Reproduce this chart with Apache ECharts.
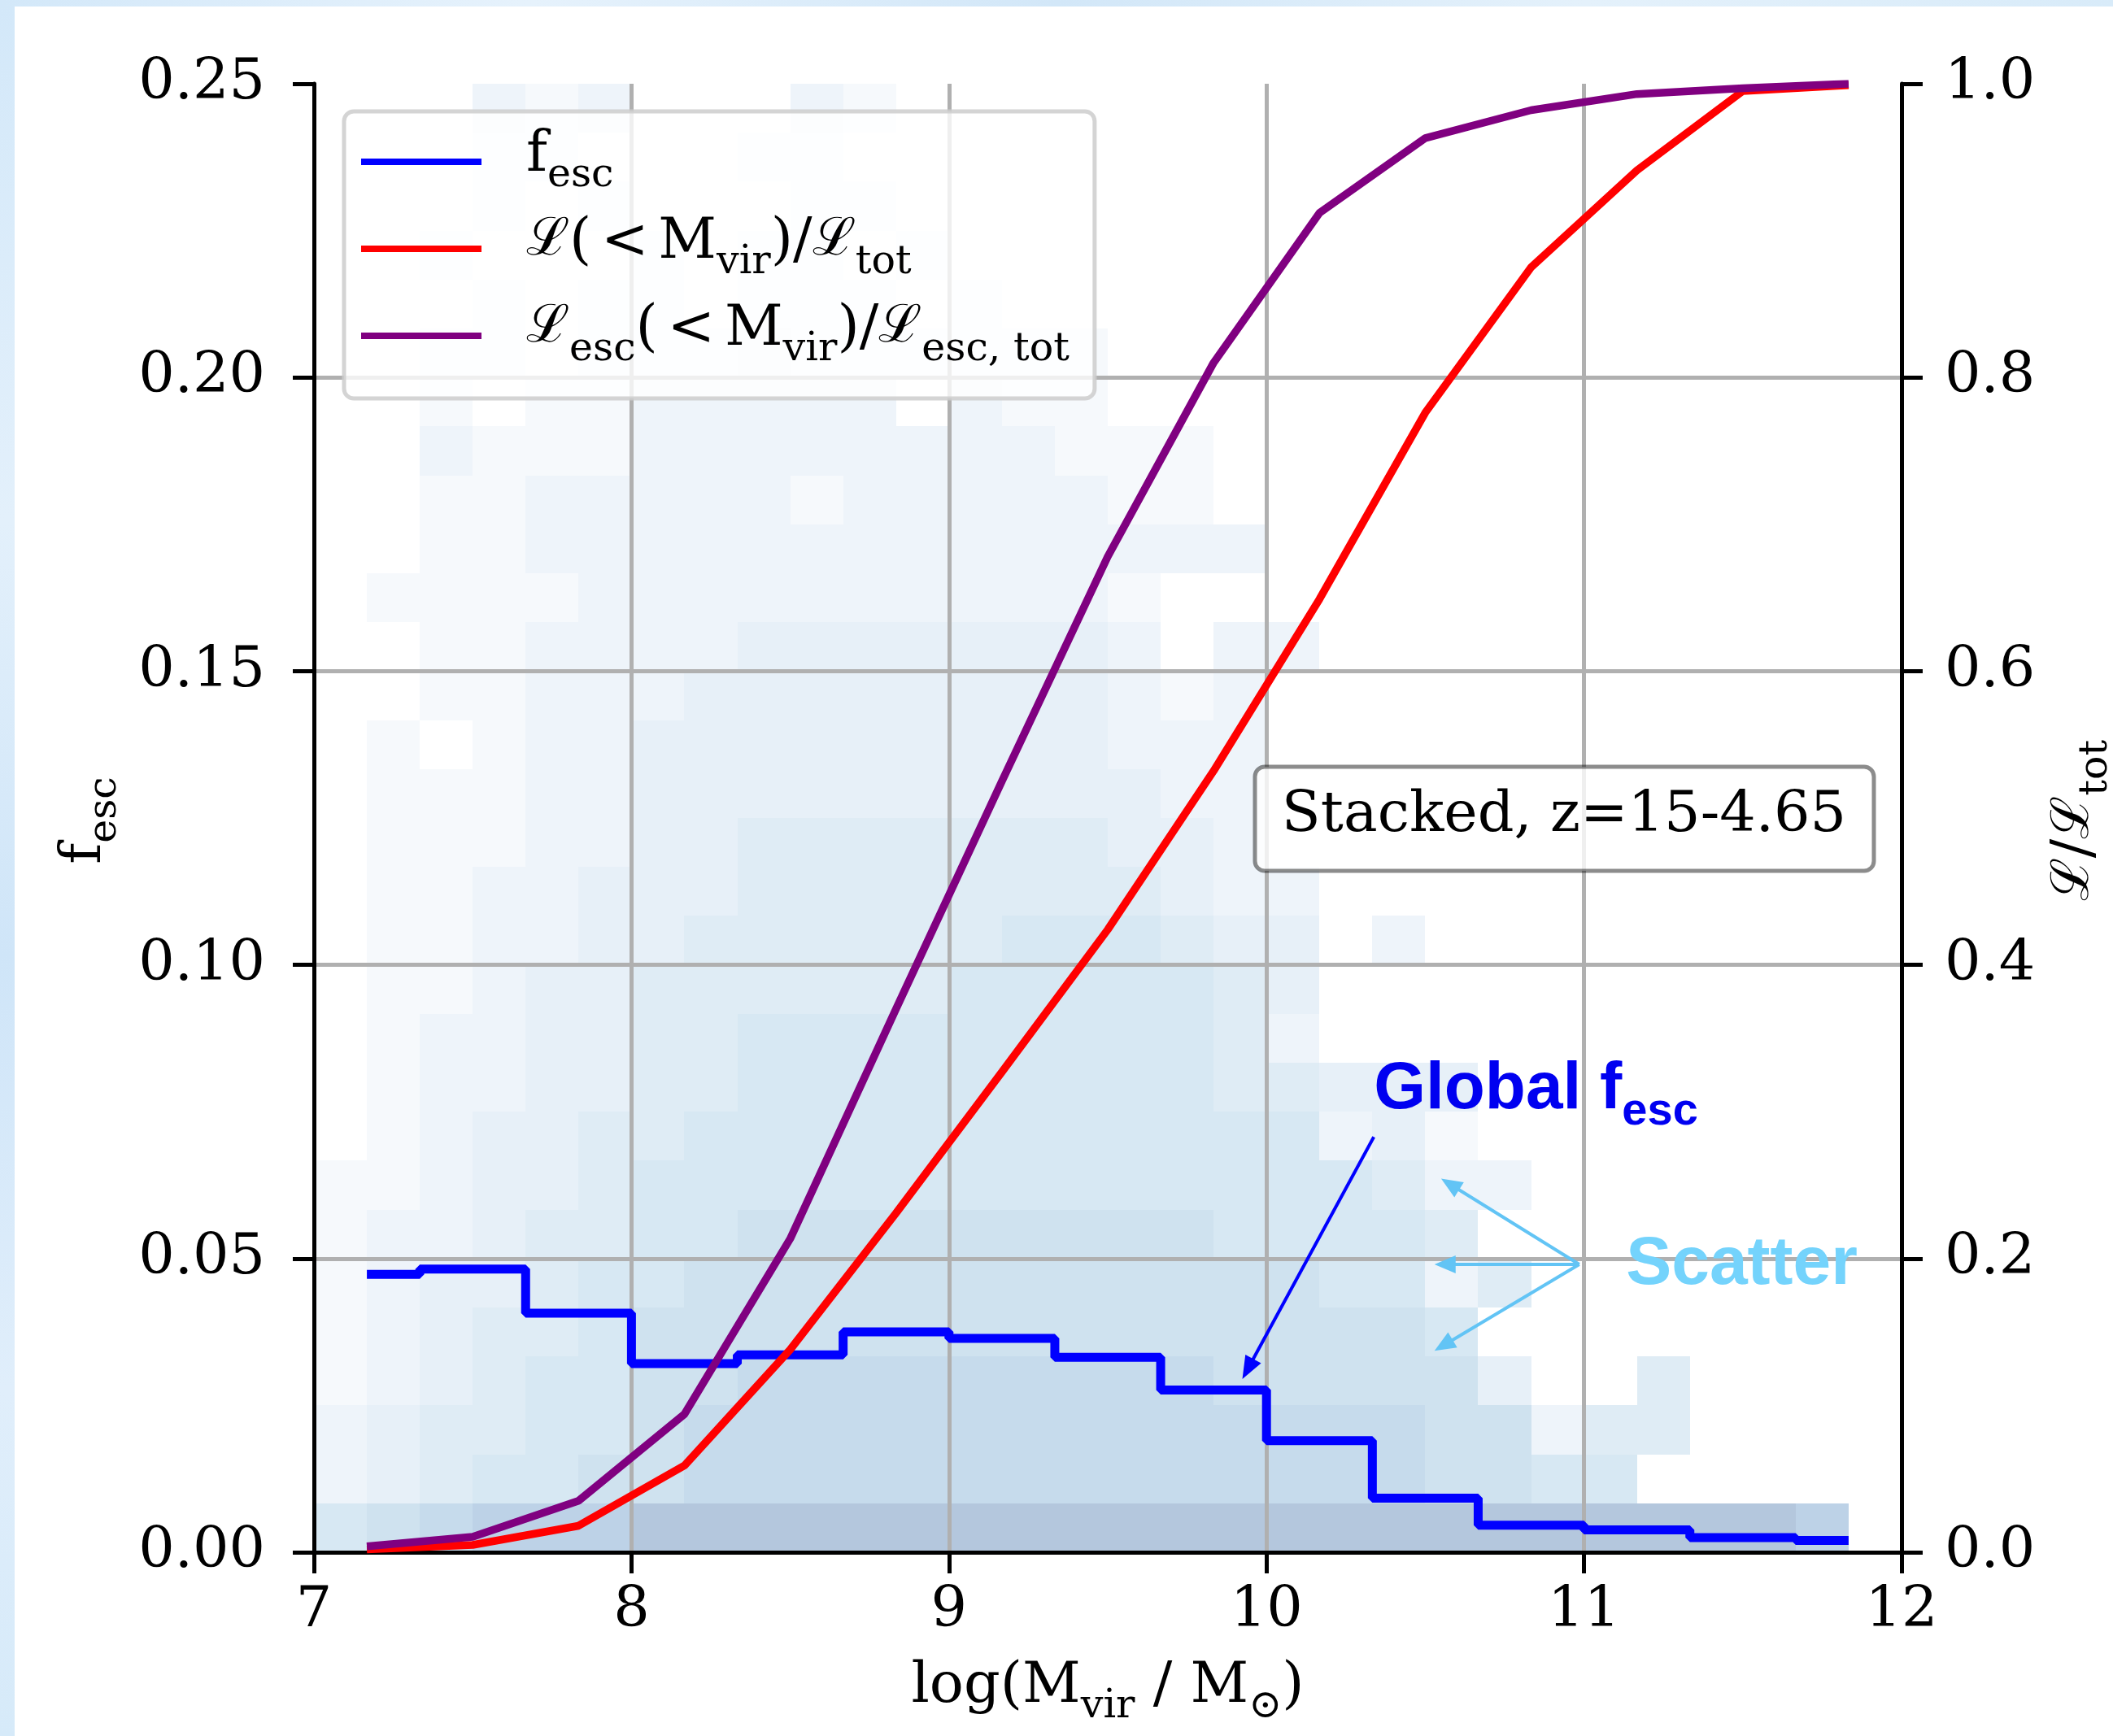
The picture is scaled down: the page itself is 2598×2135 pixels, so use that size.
<!DOCTYPE html>
<html>
<head>
<meta charset="utf-8">
<script src="https://cdn.jsdelivr.net/npm/echarts@6.0.0/dist/echarts.min.js"></script>
<style>
  html, body { margin: 0; padding: 0; background: #ffffff; }
  #chart { width: 2598px; height: 2135px; }
</style>
</head>
<body>
<div id="chart"></div>
<script>
// ---- data -------------------------------------------------------------
// halo-mass bin centres, log(M_vir / M_sun)
const massCentres = [7.1667, 7.5, 7.8333, 8.1667, 8.5, 8.8333, 9.1667, 9.5,
                     9.8333, 10.1667, 10.5, 10.8333, 11.1667, 11.5, 11.8333];
// luminosity-weighted escape fraction in each mass bin
const fescGlobal = [0.0473, 0.0482, 0.0407, 0.0321, 0.0336, 0.0375, 0.0364, 0.0332,
                    0.0276, 0.0190, 0.0092, 0.0046, 0.0038, 0.0025, 0.0020];
// cumulative intrinsic luminosity  L(<M_vir)/L_tot
const lumCumulative = [0.002, 0.005, 0.018, 0.059, 0.138, 0.231, 0.327, 0.424,
                       0.532, 0.649, 0.776, 0.875, 0.941, 0.995, 0.999];
// cumulative escaping luminosity  L_esc(<M_vir)/L_esc,tot
const lumEscCumulative = [0.004, 0.0105, 0.035, 0.094, 0.2135, 0.370, 0.525, 0.678,
                          0.810, 0.912, 0.963, 0.982, 0.993, 0.997, 1.000];

// tick labels
const massTickLabels = ['7', '8', '9', '10', '11', '12'];
const fescTickLabels = ['0.00', '0.05', '0.10', '0.15', '0.20', '0.25'];
const lumTickLabels = ['0.0', '0.2', '0.4', '0.6', '0.8', '1.0'];

// 2D histogram of individual haloes: shading level per bin
// (rows run from f_esc = 0 upwards, columns from log M = 7 upwards; 0 = empty)
const MASS_MIN = 7, MASS_BIN = 1 / 6;
const FESC_MIN = 0, FESC_BIN = 0.25 / 30;
const scatterLevels = [
  [5,6,7,8,8,8,9,9,9,9,9,9,9,9,9,9,9,9,9,9,9,9,9,9,9,9,9,9,8,0],
  [2,3,4,5,5,6,6,7,7,7,7,7,7,7,7,7,7,7,7,7,7,6,6,5,5,0,0,0,0,0],
  [2,3,4,4,5,5,6,7,7,7,7,7,7,7,7,7,7,7,7,7,7,6,6,2,4,4,0,0,0,0],
  [1,2,3,4,5,5,6,6,7,7,7,7,7,7,7,7,7,6,6,6,6,6,3,0,0,4,0,0,0,0],
  [1,2,3,4,4,5,6,6,6,6,6,6,6,6,6,6,6,6,6,6,6,5,0,0,0,0,0,0,0,0],
  [1,2,3,3,4,5,5,6,6,6,6,6,6,6,6,6,6,6,6,5,5,2,4,0,0,0,0,0,0,0],
  [1,2,2,3,4,4,5,5,6,6,6,6,6,6,6,6,6,5,5,5,5,4,0,0,0,0,0,0,0,0],
  [1,1,2,3,3,4,5,5,5,5,5,5,5,5,5,5,5,5,5,5,4,2,2,0,0,0,0,0,0,0],
  [0,1,2,3,3,4,4,5,5,5,5,5,5,5,5,5,5,5,5,2,3,1,0,0,0,0,0,0,0,0],
  [0,1,2,2,3,3,4,4,5,5,5,5,5,5,5,5,5,4,4,3,3,3,0,0,0,0,0,0,0,0],
  [0,1,2,2,3,3,4,4,5,5,5,5,5,5,5,5,5,4,2,0,0,0,0,0,0,0,0,0,0,0],
  [0,1,1,2,3,3,4,4,4,4,4,4,5,5,5,5,5,4,3,0,0,0,0,0,0,0,0,0,0,0],
  [0,1,1,2,2,3,3,4,4,4,4,4,4,5,5,5,4,3,3,0,2,0,0,0,0,0,0,0,0,0],
  [0,1,1,2,2,3,3,3,4,4,4,4,4,4,4,4,3,2,2,0,0,0,0,0,0,0,0,0,0,0],
  [0,1,1,1,2,2,3,3,4,4,4,4,4,4,4,3,3,2,0,0,0,0,0,0,0,0,0,0,0,0],
  [0,1,1,1,2,2,3,3,3,3,3,3,3,3,3,3,2,2,0,0,0,0,0,0,0,0,0,0,0,0],
  [0,1,0,1,2,2,3,3,3,3,3,3,3,3,3,2,2,2,0,0,0,0,0,0,0,0,0,0,0,0],
  [0,0,1,1,2,2,2,3,3,3,3,3,3,3,3,2,1,2,0,0,0,0,0,0,0,0,0,0,0,0],
  [0,0,1,1,2,2,2,2,3,3,3,3,3,3,3,2,0,2,2,0,0,0,0,0,0,0,0,0,0,0],
  [0,1,1,1,1,2,2,2,2,2,2,2,2,2,2,1,0,0,0,0,0,0,0,0,0,0,0,0,0,0],
  [0,0,1,1,2,2,2,2,2,2,2,2,2,2,2,2,2,2,0,0,0,0,0,0,0,0,0,0,0,0],
  [0,0,1,1,2,2,2,2,2,1,2,2,2,2,2,1,1,0,0,0,0,0,0,0,0,0,0,0,0,0],
  [0,0,2,1,1,1,2,2,2,2,2,2,2,2,1,1,1,0,0,0,0,0,0,0,0,0,0,0,0,0],
  [0,0,1,0,1,1,2,2,2,2,2,0,2,1,1,0,0,0,0,0,0,0,0,0,0,0,0,0,0,0],
  [0,0,1,1,0,1,1,1,2,1,1,1,1,1,1,0,0,0,0,0,0,0,0,0,0,0,0,0,0,0],
  [0,0,0,1,0,1,1,0,1,1,1,0,1,0,0,0,0,0,0,0,0,0,0,0,0,0,0,0,0,0],
  [0,0,1,0,0,0,1,0,1,1,0,1,0,0,0,0,0,0,0,0,0,0,0,0,0,0,0,0,0,0],
  [0,0,0,1,0,1,0,0,0,1,1,0,0,0,0,0,0,0,0,0,0,0,0,0,0,0,0,0,0,0],
  [0,0,0,1,1,0,0,0,1,1,0,0,0,0,0,0,0,0,0,0,0,0,0,0,0,0,0,0,0,0],
  [0,0,0,2,1,2,0,0,0,2,1,0,0,0,0,0,0,0,0,0,0,0,0,0,0,0,0,0,0,0]
];

// ---- styling ----------------------------------------------------------
const SERIF = 'DejaVu Serif';
const SANS = 'Liberation Sans';
const cellPalette = [null, '#f6f9fc', '#eef4fa', '#e7f0f8', '#dfecf5', '#d7e8f3',
                     '#cfe2ef', '#c6dbec', '#bdd2e7', '#b4c7dd'];

// rich-text pieces for math labels: m = main, s = subscript, c = script L
const mathRich = {
  m: { fontFamily: SERIF, fontSize: 70, lineHeight: 84, verticalAlign: 'top', color: '#000', fill: '#000' },
  c: { fontFamily: SERIF, fontSize: 64, lineHeight: 84, verticalAlign: 'top', color: '#000', fill: '#000' },
  s: { fontFamily: SERIF, fontSize: 49, lineHeight: 48, verticalAlign: 'bottom', color: '#000', fill: '#000' }
};

// histogram cells as [massLo, massHi, fescLo, fescHi, level]
const cellData = [];
scatterLevels.forEach((row, r) => {
  row.forEach((level, c) => {
    if (level > 0) {
      cellData.push([
        MASS_MIN + c * MASS_BIN, MASS_MIN + (c + 1) * MASS_BIN,
        FESC_MIN + r * FESC_BIN, FESC_MIN + (r + 1) * FESC_BIN,
        level
      ]);
    }
  });
});

function renderCell(params, api) {
  const p0 = api.coord([api.value(0), api.value(3)]);
  const p1 = api.coord([api.value(1), api.value(2)]);
  const x0 = Math.round(p0[0]), y0 = Math.round(p0[1]);
  const x1 = Math.round(p1[0]), y1 = Math.round(p1[1]);
  return {
    type: 'rect',
    shape: { x: x0, y: y0, width: x1 - x0, height: y1 - y0 },
    style: { fill: cellPalette[api.value(4)] }
  };
}

const pairs = (xs, ys) => xs.map((x, i) => [x, ys[i]]);

const legendLabels = {
  fesc: '{m|f}{s|esc}',
  lum: '{c|ℒ}{m|(\u2006<\u2006M}{s|vir}{m|)/}{c|ℒ}{s|tot}',
  lumEsc: '{c|ℒ}{s|esc}{m|(\u2006<\u2006M}{s|vir}{m|)/}{c|ℒ}{s|esc, tot}'
};

const chart = echarts.init(document.getElementById('chart'), null, { renderer: 'canvas' });

const axisFont = { fontFamily: SERIF, fontSize: 70, color: '#000' };
const spine = { show: true, lineStyle: { color: '#000', width: 5 } };
const ticks = { show: true, length: 26, lineStyle: { color: '#000', width: 5 } };
const gridLines = { show: true, showMinLine: false, showMaxLine: false,
                    lineStyle: { color: '#b0b0b0', width: 5 } };

chart.setOption({
  animation: false,
  backgroundColor: '#ffffff',
  grid: {
    left: 386, right: 260, top: 103, bottom: 226,
    show: false,
    outerBoundsMode: 'none'
  },
  xAxis: [
    {
      type: 'value', min: 7, max: 12, interval: 1, position: 'bottom',
      axisLine: spine, axisTick: ticks,
      axisLabel: Object.assign({ margin: 38,
        formatter: v => massTickLabels[Math.round(v - 7)] }, axisFont),
      splitLine: gridLines
    },
    {
      // top spine
      type: 'value', min: 7, max: 12, interval: 1, position: 'top',
      axisLine: spine, axisTick: { show: false }, axisLabel: { show: false },
      splitLine: { show: false }
    }
  ],
  yAxis: [
    {
      type: 'value', min: 0, max: 0.25, interval: 0.05, position: 'left',
      axisLine: spine, axisTick: ticks,
      axisLabel: Object.assign({ margin: 60,
        formatter: v => fescTickLabels[Math.round(v / 0.05)] }, axisFont),
      splitLine: gridLines
    },
    {
      type: 'value', min: 0, max: 1, interval: 0.2, position: 'right',
      axisLine: spine, axisTick: ticks,
      axisLabel: Object.assign({ margin: 53,
        formatter: v => lumTickLabels[Math.round(v / 0.2)] }, axisFont),
      splitLine: { show: false }
    }
  ],
  legend: {
    orient: 'vertical',
    left: 423, top: 137,
    padding: [20, 31, 35, 21],
    itemGap: 23,
    itemWidth: 148, itemHeight: 8,
    icon: 'rect',
    selectedMode: false,
    backgroundColor: 'rgba(255,255,255,0.8)',
    borderColor: 'rgba(204,204,204,0.85)', borderWidth: 5, borderRadius: 12,
    data: ['fesc', 'lum', 'lumEsc'],
    formatter: name => legendLabels[name],
    textStyle: { padding: [0, 0, 0, 50], rich: mathRich }
  },
  series: [
    {
      name: 'scatter',
      type: 'custom',
      coordinateSystem: 'cartesian2d',
      xAxisIndex: 0, yAxisIndex: 0,
      z: -1,
      clip: true,
      silent: true,
      dimensions: ['massLo', 'massHi', 'fescLo', 'fescHi', 'level'],
      encode: { x: [0, 1], y: [2, 3] },
      renderItem: renderCell,
      data: cellData
    },
    {
      name: 'fesc', type: 'line', yAxisIndex: 0, step: 'middle', z: 2,
      symbol: 'none', showSymbol: false,
      lineStyle: { color: '#0000ff', width: 11 }, itemStyle: { color: '#0000ff' },
      data: pairs(massCentres, fescGlobal)
    },
    {
      name: 'lum', type: 'line', yAxisIndex: 1, z: 3,
      symbol: 'none', showSymbol: false,
      lineStyle: { color: '#ff0000', width: 9.5 }, itemStyle: { color: '#ff0000' },
      data: pairs(massCentres, lumCumulative)
    },
    {
      name: 'lumEsc', type: 'line', yAxisIndex: 1, z: 4,
      symbol: 'none', showSymbol: false,
      lineStyle: { color: '#800080', width: 9.5 }, itemStyle: { color: '#800080' },
      data: pairs(massCentres, lumEscCumulative)
    }
  ]
});

// ---- annotations -------------------------------------------------------
const toPx = p => chart.convertToPixel({ gridIndex: 0 }, p);

function arrow(from, to, color, width, headLen, headWidth) {
  const a = toPx(from), b = toPx(to);
  const dx = b[0] - a[0], dy = b[1] - a[1];
  const len = Math.hypot(dx, dy), ux = dx / len, uy = dy / len;
  const bx = b[0] - ux * headLen, by = b[1] - uy * headLen;
  const hw = headWidth / 2;
  return [
    { type: 'line', z: 10, silent: true,
      shape: { x1: a[0], y1: a[1], x2: bx + ux * 2, y2: by + uy * 2 },
      style: { stroke: color, lineWidth: width } },
    { type: 'polygon', z: 10, silent: true,
      shape: { points: [[b[0], b[1]], [bx - uy * hw, by + ux * hw], [bx + uy * hw, by - ux * hw]] },
      style: { fill: color } }
  ];
}

const globalColor = '#0000f0';
const scatterTextColor = '#74d3fc';
const scatterArrowColor = '#62c4f5';

const globalAt = toPx([10.338, 0.0844]);
const scatterAt = toPx([11.132, 0.0555]);
const scatterFrom = [10.985, 0.0490];

const graphics = [
  // frosted backdrop strips along the page edges
  { type: 'rect', z: -10, silent: true, shape: { x: 0, y: 0, width: 18, height: 2135 },
    style: { fill: new echarts.graphic.LinearGradient(0, 0, 0, 1, [
      { offset: 0, color: '#d3e8f9' }, { offset: 0.3, color: '#e3f0fb' },
      { offset: 0.55, color: '#cfe5f8' }, { offset: 0.8, color: '#e0eefb' },
      { offset: 1, color: '#d6eaf9' }]) } },
  { type: 'rect', z: -10, silent: true, shape: { x: 0, y: 0, width: 2598, height: 8 },
    style: { fill: new echarts.graphic.LinearGradient(0, 0, 1, 0, [
      { offset: 0, color: '#d3e8f9' }, { offset: 0.25, color: '#e6f2fc' },
      { offset: 0.5, color: '#d2e7f8' }, { offset: 0.75, color: '#e4f1fb' },
      { offset: 1, color: '#d8ebf9' }]) } },

  // axis titles
  { type: 'text', x: 1362, y: 2082, z: 10, silent: true,
    style: { text: '{m|log(M}{s|vir}{m| / M}{s|⊙}{m|)}', rich: mathRich,
             align: 'center', verticalAlign: 'middle' } },
  { type: 'text', x: 112, y: 1009, rotation: Math.PI / 2, z: 10, silent: true,
    style: { text: '{m|f}{s|esc}', rich: mathRich, align: 'center', verticalAlign: 'middle' } },
  { type: 'text', x: 2560, y: 1009, rotation: Math.PI / 2, z: 10, silent: true,
    style: { text: '{c|ℒ}{m|/}{c|ℒ}{s|tot}', rich: mathRich, align: 'center', verticalAlign: 'middle' } },

  // redshift-range box
  { type: 'rect', z: 10, silent: true,
    shape: { x: 1543, y: 943, width: 761, height: 128, r: 12 },
    style: { fill: 'rgba(255,255,255,0.8)', stroke: 'rgba(0,0,0,0.45)', lineWidth: 5 } },
  { type: 'text', x: 1923, y: 1004, z: 11, silent: true,
    style: { text: 'Stacked, z=15-4.65', fontFamily: SERIF, fontSize: 70, fill: '#000',
             align: 'center', verticalAlign: 'middle' } },

  // annotation labels
  { type: 'text', x: globalAt[0], y: globalAt[1], z: 11, silent: true,
    style: { text: '{g|Global f}{gs|esc}', align: 'left', verticalAlign: 'top', fill: globalColor,
      rich: {
        g: { fontFamily: SANS, fontWeight: 'bold', fontSize: 82, lineHeight: 96,
             verticalAlign: 'top', fill: globalColor, color: globalColor },
        gs: { fontFamily: SANS, fontWeight: 'bold', fontSize: 56, lineHeight: 70,
              verticalAlign: 'bottom', fill: globalColor, color: globalColor }
      } } },
  { type: 'text', x: scatterAt[0], y: scatterAt[1], z: 11, silent: true,
    style: { text: 'Scatter', fontFamily: SANS, fontWeight: 'bold', fontSize: 84,
             lineHeight: 96, fill: scatterTextColor, align: 'left', verticalAlign: 'top' } }
]
  .concat(arrow([10.338, 0.0707], [9.924, 0.0295], '#0000ff', 4, 28, 22))
  .concat(arrow(scatterFrom, [10.550, 0.0636], scatterArrowColor, 4, 26, 22))
  .concat(arrow(scatterFrom, [10.529, 0.0490], scatterArrowColor, 4, 26, 22))
  .concat(arrow(scatterFrom, [10.529, 0.0343], scatterArrowColor, 4, 26, 22));

chart.setOption({ graphic: graphics });
</script>
</body>
</html>
